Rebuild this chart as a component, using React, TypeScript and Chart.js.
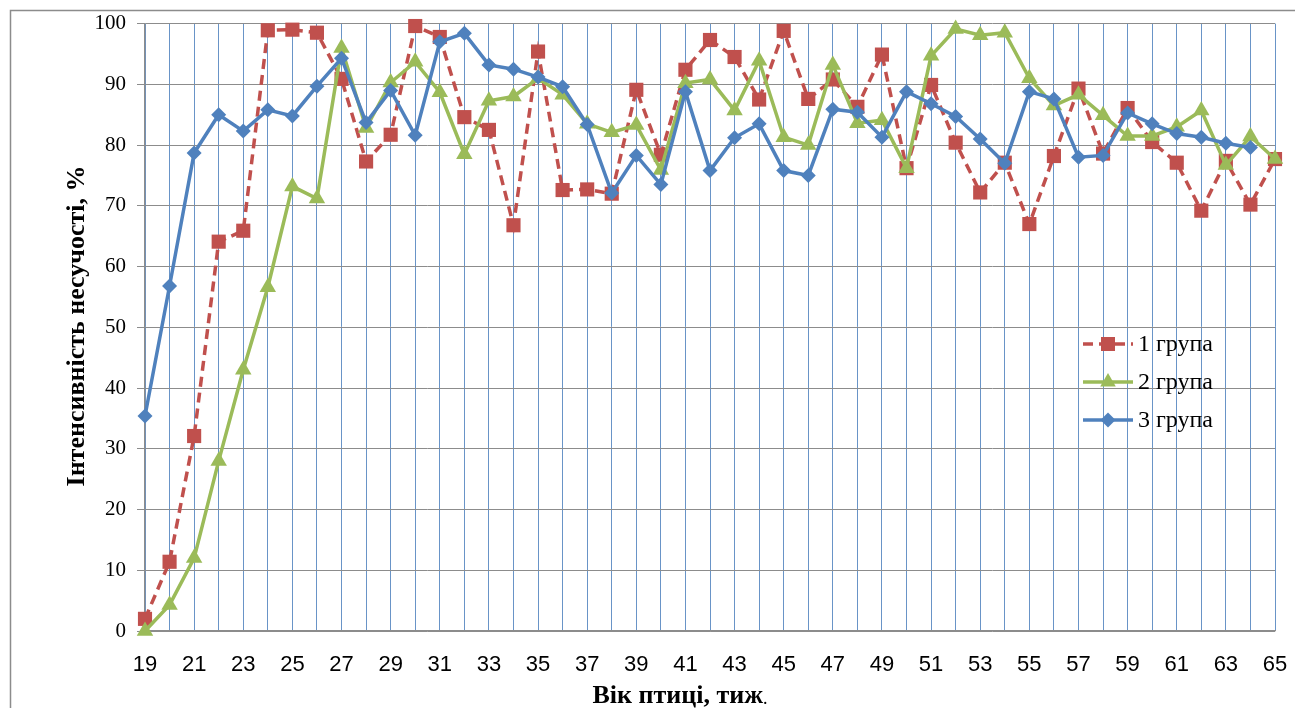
import React, { useEffect, useRef } from 'react';
import { Chart, registerables } from 'chart.js';

Chart.register(...registerables);

const weeks = [19, 20, 21, 22, 23, 24, 25, 26, 27, 28, 29, 30, 31, 32, 33, 34, 35, 36, 37, 38, 39, 40, 41, 42, 43, 44, 45, 46, 47, 48, 49, 50, 51, 52, 53, 54, 55, 56, 57, 58, 59, 60, 61, 62, 63, 64, 65];

const group1 = [2.0, 11.4, 32.1, 64.1, 65.9, 98.9, 99.0, 98.5, 90.9, 77.3, 81.7, 99.6, 97.8, 84.6, 82.5, 66.8, 95.4, 72.6, 72.7, 72.0, 89.1, 78.4, 92.4, 97.3, 94.5, 87.5, 98.8, 87.6, 90.8, 86.3, 94.9, 76.2, 89.9, 80.4, 72.2, 77.1, 67.0, 78.2, 89.3, 78.6, 86.1, 80.5, 77.1, 69.2, 77.4, 70.2, 77.7];

const group2 = [0, 4.3, 12.0, 28.0, 43.0, 56.6, 73.2, 71.2, 96.0, 82.8, 90.3, 93.7, 88.7, 78.5, 87.3, 88.0, 91.0, 88.3, 83.5, 82.1, 83.3, 75.9, 90.2, 90.8, 85.7, 93.9, 81.3, 80.0, 93.2, 83.6, 84.1, 76.2, 94.7, 99.1, 98.1, 98.5, 91.0, 86.5, 88.3, 84.9, 81.5, 81.5, 83.0, 85.7, 76.7, 81.4, 77.7];

const group3 = [35.4, 56.8, 78.7, 85.0, 82.3, 85.8, 84.8, 89.7, 94.3, 83.7, 89.0, 81.6, 97.0, 98.4, 93.2, 92.5, 91.2, 89.6, 83.4, 72.1, 78.3, 73.5, 88.8, 75.8, 81.2, 83.5, 75.8, 75.0, 85.9, 85.4, 81.3, 88.8, 86.8, 84.7, 81.0, 77.0, 88.8, 87.6, 78.0, 78.3, 85.3, 83.5, 81.9, 81.3, 80.3, 79.6, null];

const seriesNames = ['1 група', '2 група', '3 група'];
const yTitle = 'Інтенсивність несучості, %';
const xTitle = 'Вік птиці, тиж';

const RED = '#C0504D';
const GREEN = '#9BBB59';
const BLUE = '#4F81BD';

function drawMarker(ctx: CanvasRenderingContext2D, style: string, x: number, y: number, color: string) {
  ctx.save();
  ctx.fillStyle = color;
  ctx.setLineDash([]);
  ctx.beginPath();
  if (style === 'rect') {
    const s = 7;
    ctx.rect(x - s, y - s, 2 * s, 2 * s);
  } else if (style === 'triangle') {
    const r = 9;
    ctx.moveTo(x, y - r);
    ctx.lineTo(x + r * 0.866, y + r * 0.5);
    ctx.lineTo(x - r * 0.866, y + r * 0.5);
    ctx.closePath();
  } else {
    const r = 7.5;
    ctx.moveTo(x - r, y);
    ctx.lineTo(x, y - r);
    ctx.lineTo(x + r, y);
    ctx.lineTo(x, y + r);
    ctx.closePath();
  }
  ctx.fill();
  ctx.restore();
}

const decorPlugin = {
  id: 'decor',
  afterDraw(chart: any) {
    const ctx: CanvasRenderingContext2D = chart.ctx;
    ctx.save();
    // outer frame
    ctx.strokeStyle = '#8c8c8c';
    ctx.lineWidth = 1.5;
    ctx.beginPath();
    ctx.moveTo(10.5, 708);
    ctx.lineTo(10.5, 10.5);
    ctx.lineTo(1295, 10.5);
    ctx.stroke();

    // y title
    ctx.fillStyle = '#000';
    ctx.save();
    ctx.translate(77, 326);
    ctx.rotate(-Math.PI / 2);
    ctx.font = 'bold 26px "Liberation Serif"';
    ctx.textAlign = 'center';
    ctx.textBaseline = 'middle';
    ctx.fillText(yTitle, 0, 0);
    ctx.restore();

    // x title
    ctx.font = 'bold 26px "Liberation Serif"';
    ctx.textBaseline = 'middle';
    ctx.textAlign = 'left';
    const w1 = ctx.measureText(xTitle).width;
    ctx.font = '18px "Liberation Serif"';
    const w2 = ctx.measureText('.').width;
    const startX = 680 - (w1 + w2) / 2;
    ctx.font = 'bold 26px "Liberation Serif"';
    ctx.fillText(xTitle, startX, 696);
    ctx.font = '18px "Liberation Serif"';
    ctx.fillText('.', startX + w1, 699);

    // legend
    const rows = [344, 382, 420];
    const styles = ['rect', 'triangle', 'rectRot'];
    const colors = [RED, GREEN, BLUE];
    for (let i = 0; i < 3; i++) {
      const y = rows[i];
      ctx.save();
      ctx.strokeStyle = colors[i];
      ctx.lineWidth = 3.5;
      ctx.setLineDash(i === 0 ? [10, 6] : []);
      ctx.beginPath();
      ctx.moveTo(1083, y);
      ctx.lineTo(1133, y);
      ctx.stroke();
      ctx.restore();
      drawMarker(ctx, styles[i], 1108, y, colors[i]);
      ctx.fillStyle = '#000';
      ctx.font = '24px "Liberation Serif"';
      ctx.textAlign = 'left';
      ctx.textBaseline = 'middle';
      ctx.fillText(seriesNames[i], 1138, y + 1);
    }
    ctx.restore();
  },
};

export default function App() {
  const ref = useRef<HTMLCanvasElement>(null);
  useEffect(() => {
    document.body.style.margin = '0';
    const canvas = ref.current;
    if (!canvas) return;
    const chart = new Chart(canvas, {
      type: 'line',
      data: {
        labels: weeks.map(String),
        datasets: [
          {
            label: seriesNames[0],
            data: group1,
            borderColor: RED,
            backgroundColor: RED,
            borderWidth: 3.5,
            borderDash: [10, 6],
            pointStyle: 'rect',
            pointRadius: 10,
            pointBorderWidth: 0,
            pointBackgroundColor: RED,
            tension: 0,
            clip: false,
            order: 3,
          },
          {
            label: seriesNames[1],
            data: group2,
            borderColor: GREEN,
            backgroundColor: GREEN,
            borderWidth: 3.5,
            pointStyle: 'triangle',
            pointRadius: 9.5,
            pointBorderWidth: 0,
            pointBackgroundColor: GREEN,
            tension: 0,
            clip: false,
            order: 2,
          },
          {
            label: seriesNames[2],
            data: group3,
            borderColor: BLUE,
            backgroundColor: BLUE,
            borderWidth: 3.5,
            pointStyle: 'rectRot',
            pointRadius: 7.5,
            pointBorderWidth: 0,
            pointBackgroundColor: BLUE,
            tension: 0,
            clip: false,
            order: 1,
          },
        ],
      },
      options: {
        responsive: false,
        animation: false,
        layout: { padding: { top: 22, right: 20, left: 0, bottom: 0 } },
        plugins: {
          legend: { display: false },
          tooltip: { enabled: false },
          title: { display: false },
        },
        scales: {
          x: {
            type: 'category',
            offset: false,
            grid: { color: 'rgba(79,129,189,0.85)', lineWidth: 1, drawTicks: false, offset: false },
            border: { color: '#8c8c8c', width: 1.3 },
            ticks: {
              autoSkip: false,
              maxRotation: 0,
              minRotation: 0,
              padding: 21,
              color: '#000',
              font: { family: '"Liberation Sans"', size: 22 },
              callback: (_v: any, i: number) => (i % 2 === 0 ? String(weeks[i]) : ''),
            },
            afterFit: (s: any) => {
              s.height = 77;
              s.paddingLeft = 0;
              s.paddingRight = 0;
            },
          },
          y: {
            min: 0,
            max: 100,
            grid: { color: '#8c8c8c', lineWidth: 1, tickLength: 8 },
            border: { color: '#8c8c8c', width: 1.3 },
            ticks: {
              stepSize: 10,
              padding: 11,
              color: '#000',
              font: { family: '"Liberation Serif"', size: 21 },
            },
            afterFit: (s: any) => {
              s.width = 145;
            },
          },
        },
      },
      plugins: [decorPlugin],
    } as any);
    return () => chart.destroy();
  }, []);
  return (
    <div style={{ width: 1295, height: 708 }}>
      <canvas ref={ref} width={1295} height={708} style={{ display: 'block' }} />
    </div>
  );
}
